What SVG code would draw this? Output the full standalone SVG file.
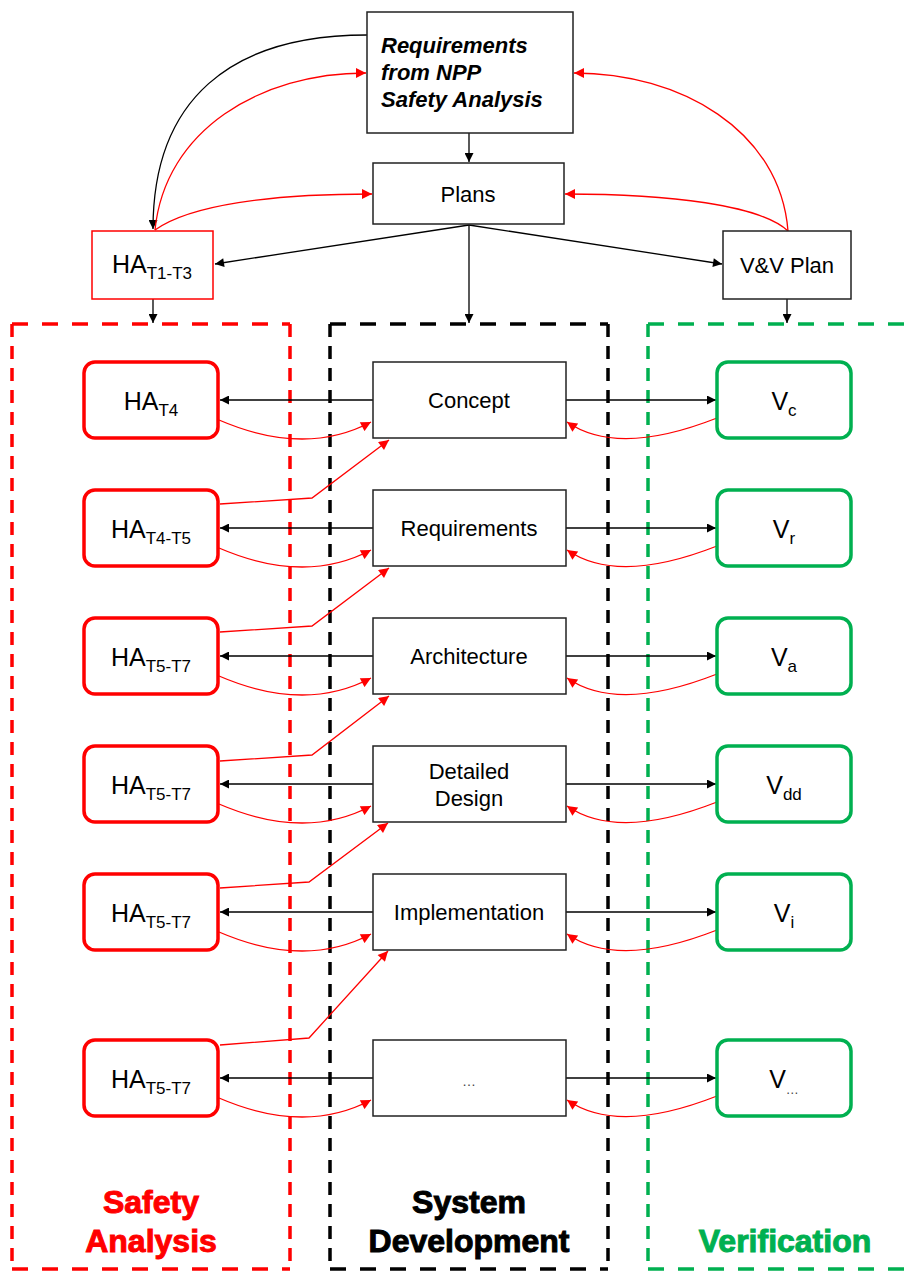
<svg xmlns="http://www.w3.org/2000/svg" width="915" height="1273" viewBox="0 0 915 1273">
<style>
text{font-family:"Liberation Sans",Arial,sans-serif;fill:#000}
.box{fill:#fff;stroke:#222;stroke-width:1.5}
.ha{fill:#fff;stroke:#ff0000;stroke-width:3.5}
.vv{fill:#fff;stroke:#00b050;stroke-width:3.5}
.lbl{font-size:22px;text-anchor:middle}
.big{font-size:25px;text-anchor:middle}
.blk{fill:none;stroke:#000;stroke-width:1.3}
.red{fill:none;stroke:#ff0000;stroke-width:1.3}
.dh{stroke-width:3.5;stroke-dasharray:16 14;fill:none}
.dv{stroke-width:3.5;stroke-dasharray:13 9;fill:none}
.title{font-size:32px;font-weight:bold;text-anchor:middle}
</style>
<defs>
<marker id="ab" viewBox="0 0 10 10" refX="10" refY="5" markerWidth="10" markerHeight="9" markerUnits="userSpaceOnUse" orient="auto"><path d="M0,0 L10,5 L0,10 z" fill="#000"/></marker>
<marker id="ar" viewBox="0 0 10 10" refX="10" refY="5" markerWidth="11" markerHeight="10" markerUnits="userSpaceOnUse" orient="auto"><path d="M0,0 L10,5 L0,10 z" fill="#ff0000"/></marker>
</defs>

<g id="containers">
<g id="safety-analysis" stroke="#ff0000">
<line class="dh" x1="12" y1="324" x2="290" y2="324"/>
<line class="dh" x1="12" y1="1269" x2="290" y2="1269"/>
<line class="dv" x1="12" y1="324" x2="12" y2="1269"/>
<line class="dv" x1="290" y1="324" x2="290" y2="1269"/>
<text class="title" x="151" y="1213" style="fill:#ff0000">Safety</text>
<text class="title" x="151" y="1252" style="fill:#ff0000">Analysis</text>
</g>
<g id="system-development" stroke="#000">
<line class="dh" x1="330" y1="324" x2="608" y2="324"/>
<line class="dh" x1="330" y1="1269" x2="608" y2="1269"/>
<line class="dv" x1="330" y1="324" x2="330" y2="1269"/>
<line class="dv" x1="608" y1="324" x2="608" y2="1269"/>
<text class="title" x="469" y="1213">System</text>
<text class="title" x="469" y="1252">Development</text>
</g>
<g id="verification" stroke="#00b050">
<line class="dh" x1="648" y1="324" x2="930" y2="324"/>
<line class="dh" x1="648" y1="1269" x2="930" y2="1269"/>
<line class="dv" x1="648" y1="324" x2="648" y2="1269"/>
<text class="title" x="785" y="1252" style="fill:#00b050">Verification</text>
</g>
</g>

<g id="connectors">
<!-- top -->
<path class="blk" d="M367,35 C230,35 153,100 153,229" marker-end="url(#ab)"/>
<path class="red" d="M155,230 C165,130 260,73 366,73" marker-end="url(#ar)"/>
<path class="red" d="M155,230 C190,205 270,194 372,194" marker-end="url(#ar)"/>
<path class="red" d="M788,231 C780,130 680,73 574,73" marker-end="url(#ar)"/>
<path class="red" d="M788,231 C760,205 670,194 565,194" marker-end="url(#ar)"/>
<line class="blk" x1="469" y1="133" x2="469" y2="162" marker-end="url(#ab)"/>
<line class="blk" x1="469" y1="225" x2="215" y2="264" marker-end="url(#ab)"/>
<line class="blk" x1="469" y1="225" x2="722" y2="264" marker-end="url(#ab)"/>
<line class="blk" x1="469" y1="225" x2="469" y2="323" marker-end="url(#ab)"/>
<line class="blk" x1="153" y1="299" x2="153" y2="323" marker-end="url(#ab)"/>
<line class="blk" x1="787" y1="299" x2="787" y2="323" marker-end="url(#ab)"/>
<!-- rows -->
<line class="blk" x1="373" y1="400" x2="220" y2="400" marker-end="url(#ab)"/>
<line class="blk" x1="566" y1="400" x2="716" y2="400" marker-end="url(#ab)"/>
<path class="red" d="M219,420 Q305,457 371,422" marker-end="url(#ar)"/>
<path class="red" d="M717,418 Q618,457 567,422" marker-end="url(#ar)"/>

<line class="blk" x1="373" y1="528" x2="220" y2="528" marker-end="url(#ab)"/>
<line class="blk" x1="566" y1="528" x2="716" y2="528" marker-end="url(#ab)"/>
<path class="red" d="M219,548 Q305,585 371,550" marker-end="url(#ar)"/>
<path class="red" d="M717,546 Q618,585 567,550" marker-end="url(#ar)"/>
<path class="red" d="M220,504 L312,498 L389,440" marker-end="url(#ar)"/>

<line class="blk" x1="373" y1="656" x2="220" y2="656" marker-end="url(#ab)"/>
<line class="blk" x1="566" y1="656" x2="716" y2="656" marker-end="url(#ab)"/>
<path class="red" d="M219,676 Q305,713 371,678" marker-end="url(#ar)"/>
<path class="red" d="M717,674 Q618,713 567,678" marker-end="url(#ar)"/>
<path class="red" d="M220,632 L312,626 L389,568" marker-end="url(#ar)"/>

<line class="blk" x1="373" y1="784" x2="220" y2="784" marker-end="url(#ab)"/>
<line class="blk" x1="566" y1="784" x2="716" y2="784" marker-end="url(#ab)"/>
<path class="red" d="M219,804 Q305,841 371,806" marker-end="url(#ar)"/>
<path class="red" d="M717,802 Q618,841 567,806" marker-end="url(#ar)"/>
<path class="red" d="M220,761 L312,755 L389,696" marker-end="url(#ar)"/>

<line class="blk" x1="373" y1="912" x2="220" y2="912" marker-end="url(#ab)"/>
<line class="blk" x1="566" y1="912" x2="716" y2="912" marker-end="url(#ab)"/>
<path class="red" d="M219,932 Q305,969 371,934" marker-end="url(#ar)"/>
<path class="red" d="M717,930 Q618,969 567,934" marker-end="url(#ar)"/>
<path class="red" d="M220,888 L309,882 L388,823" marker-end="url(#ar)"/>

<line class="blk" x1="373" y1="1078" x2="220" y2="1078" marker-end="url(#ab)"/>
<line class="blk" x1="566" y1="1078" x2="716" y2="1078" marker-end="url(#ab)"/>
<path class="red" d="M219,1098 Q305,1135 371,1100" marker-end="url(#ar)"/>
<path class="red" d="M717,1096 Q618,1135 567,1100" marker-end="url(#ar)"/>
<path class="red" d="M220,1045 L309,1038 L388,951" marker-end="url(#ar)"/>
</g>

<g id="req-npp">
<rect class="box" x="367" y="12" width="206" height="121"/>
<text x="381" y="53" style="font-size:22px;font-weight:bold;font-style:italic">Requirements</text>
<text x="381" y="80" style="font-size:22px;font-weight:bold;font-style:italic">from NPP</text>
<text x="381" y="107" style="font-size:22px;font-weight:bold;font-style:italic">Safety Analysis</text>
</g>
<g id="plans">
<rect class="box" x="373" y="163" width="191" height="61"/>
<text class="lbl" x="468" y="202">Plans</text>
</g>
<g id="ha-t1-t3">
<rect x="92" y="231" width="121" height="68" fill="#fff" stroke="#ff0000" stroke-width="1.5"/>
<text class="big" x="152" y="273">HA<tspan dy="6" style="font-size:17px">T1-T3</tspan></text>
</g>
<g id="vv-plan">
<rect class="box" x="723" y="231" width="128" height="68"/>
<text class="lbl" x="787" y="273">V&amp;V Plan</text>
</g>

<g id="ha-t4"><rect class="ha" x="84" y="362" width="134" height="76" rx="11"/><text class="big" x="151" y="410">HA<tspan dy="6" style="font-size:17px">T4</tspan></text></g>
<g id="ha-t4-t5"><rect class="ha" x="84" y="490" width="134" height="76" rx="11"/><text class="big" x="151" y="538">HA<tspan dy="6" style="font-size:17px">T4-T5</tspan></text></g>
<g id="ha-t5-t7-a"><rect class="ha" x="84" y="618" width="134" height="76" rx="11"/><text class="big" x="151" y="666">HA<tspan dy="6" style="font-size:17px">T5-T7</tspan></text></g>
<g id="ha-t5-t7-b"><rect class="ha" x="84" y="746" width="134" height="76" rx="11"/><text class="big" x="151" y="794">HA<tspan dy="6" style="font-size:17px">T5-T7</tspan></text></g>
<g id="ha-t5-t7-c"><rect class="ha" x="84" y="874" width="134" height="76" rx="11"/><text class="big" x="151" y="922">HA<tspan dy="6" style="font-size:17px">T5-T7</tspan></text></g>
<g id="ha-t5-t7-d"><rect class="ha" x="84" y="1040" width="134" height="76" rx="11"/><text class="big" x="151" y="1088">HA<tspan dy="6" style="font-size:17px">T5-T7</tspan></text></g>

<g id="concept"><rect class="box" x="373" y="362" width="193" height="76"/><text class="lbl" x="469" y="408">Concept</text></g>
<g id="requirements"><rect class="box" x="373" y="490" width="193" height="76"/><text class="lbl" x="469" y="536">Requirements</text></g>
<g id="architecture"><rect class="box" x="373" y="618" width="193" height="76"/><text class="lbl" x="469" y="664">Architecture</text></g>
<g id="detailed-design"><rect class="box" x="373" y="746" width="193" height="76"/><text class="lbl" x="469" y="779">Detailed</text><text class="lbl" x="469" y="806">Design</text></g>
<g id="implementation"><rect class="box" x="373" y="874" width="193" height="76"/><text class="lbl" x="469" y="920">Implementation</text></g>
<g id="more"><rect class="box" x="373" y="1040" width="193" height="76"/><text x="469" y="1086" style="font-size:14px;text-anchor:middle;fill:#444">…</text></g>

<g id="v-c"><rect class="vv" x="717" y="362" width="134" height="76" rx="11"/><text class="big" x="784" y="410">V<tspan dy="6" style="font-size:17px">c</tspan></text></g>
<g id="v-r"><rect class="vv" x="717" y="490" width="134" height="76" rx="11"/><text class="big" x="784" y="538">V<tspan dy="6" style="font-size:17px">r</tspan></text></g>
<g id="v-a"><rect class="vv" x="717" y="618" width="134" height="76" rx="11"/><text class="big" x="784" y="666">V<tspan dy="6" style="font-size:17px">a</tspan></text></g>
<g id="v-dd"><rect class="vv" x="717" y="746" width="134" height="76" rx="11"/><text class="big" x="784" y="794">V<tspan dy="6" style="font-size:17px">dd</tspan></text></g>
<g id="v-i"><rect class="vv" x="717" y="874" width="134" height="76" rx="11"/><text class="big" x="784" y="922">V<tspan dy="6" style="font-size:17px">i</tspan></text></g>
<g id="v-more"><rect class="vv" x="717" y="1040" width="134" height="76" rx="11"/><text class="big" x="784" y="1088">V<tspan dy="6" style="font-size:13px;fill:#444">…</tspan></text></g>
</svg>
